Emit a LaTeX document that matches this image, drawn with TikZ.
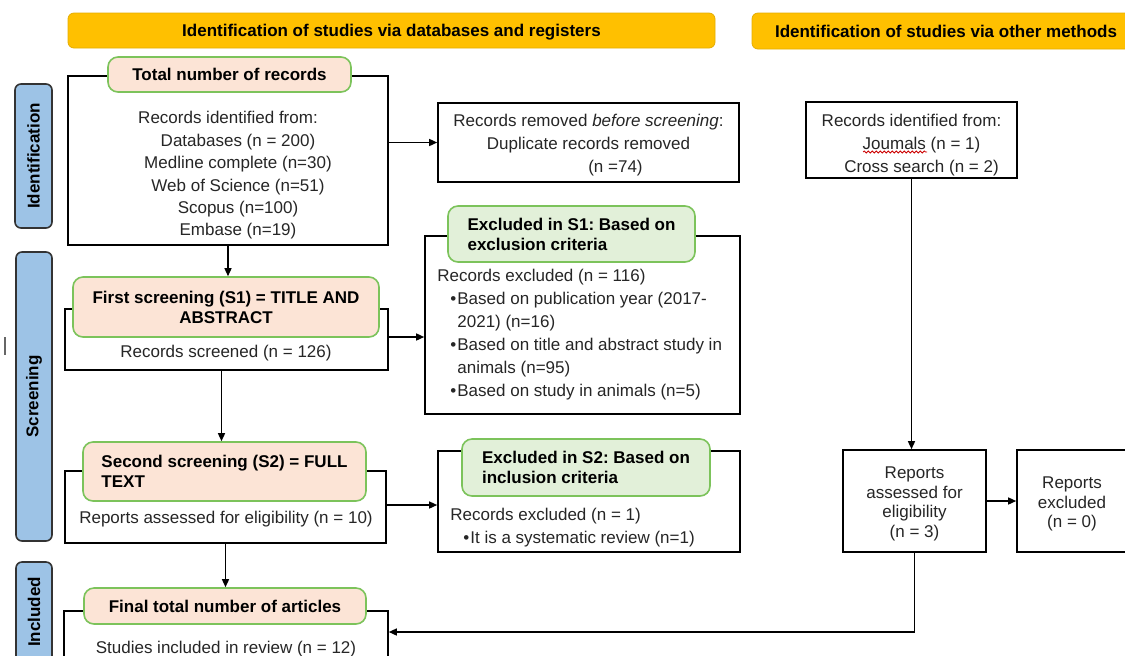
\documentclass[tikz,border=0pt]{standalone}
\usepackage{fontspec}
\setmainfont{Liberation Sans}
\usetikzlibrary{arrows.meta,decorations.pathmorphing}

\definecolor{hdrorange}{HTML}{FFC000}
\definecolor{phaseblue}{HTML}{9DC3E6}
\definecolor{peachfill}{HTML}{FCE4D6}
\definecolor{lblgreen}{HTML}{E2F0D9}
\definecolor{lblborder}{HTML}{7CC35B}

\newcommand{\bulitem}{\hspace*{6.5pt}\makebox[3.5pt][l]{\textbullet}}

\begin{document}
\frenchspacing
\begin{tikzpicture}[x=0.5pt, y=-0.5pt,
	font=\fontsize{8.5}{11.5}\selectfont,
	hdr/.style={draw=hdrorange!90!black, line width=0.4pt, fill=hdrorange, rounded corners=3pt, inner sep=0pt, text depth=0pt, font=\bfseries\fontsize{8.5}{10}\selectfont},
	phase/.style={draw=black!80, line width=0.8pt, fill=phaseblue, rounded corners=3pt, rotate=90, inner sep=0pt, font=\bfseries\fontsize{8.5}{10}\selectfont},
	recbox/.style={draw, line width=0.8pt, fill=white, inner sep=0pt},
	peachlbl/.style={draw=lblborder, line width=0.8pt, fill=peachfill, rounded corners=5pt, inner sep=0pt, align=center, font=\bfseries\fontsize{8.5}{10}\selectfont},
	greenlbl/.style={peachlbl, fill=lblgreen, align=left},
	bodytxt/.style={inner sep=0pt, text=black!85, align=center},
	smalltxt/.style={bodytxt, font=\fontsize{8.5}{9.75}\selectfont},
	arr/.style={line width=0.7pt, -{Triangle[length=4pt,width=3.5pt]}}]
	\useasboundingbox (0,0) rectangle (1125,655);
	% headers
	\node[hdr, minimum width=323.5pt, minimum height=17.5pt] (hdrdb) at (391.5,30.5) {Identification of studies via databases and registers};
	\node[hdr, minimum width=194pt, minimum height=18pt] (hdrother) at (946,31) {Identification of studies via other methods};
	% phases
	\node[phase, minimum width=72pt, minimum height=18.5pt] (phident) at (33.5,156) {Identification};
	\node[phase, minimum width=144.5pt, minimum height=18pt] (phscreen) at (34,396.5) {Screening};
	\node[phase, minimum width=50pt, minimum height=18pt] (phincl) at (34,612) {Included};
	\draw[black!60, line width=0.6pt] (5,337) -- (5,355);
	% left column
	\node[recbox, minimum width=160pt, minimum height=84.5pt] (total) at (228,160.5) {};
	\node[recbox, minimum width=161.5pt, minimum height=30.5pt] (first) at (226.5,339.5) {};
	\node[recbox, minimum width=160.5pt, minimum height=36pt] (second) at (225.5,507) {};
	\node[recbox, minimum width=162pt, minimum height=28.5pt] (final) at (226,639.5) {};
	\node[peachlbl, minimum width=121.5pt, minimum height=17.5pt] (totallbl) at (229.5,74.5) {Total number of records};
	\node[peachlbl, minimum width=153pt, minimum height=30pt] (firstlbl) at (226,307) {First screening (S1) = TITLE AND\\ABSTRACT};
	\node[peachlbl, align=left, minimum width=141.5pt, minimum height=29.5pt] (secondlbl) at (224.5,471.5) {Second screening (S2) = FULL\\TEXT};
	\node[peachlbl, minimum width=141pt, minimum height=18pt] (finallbl) at (225,606) {Final total number of articles};
	\node[bodytxt, font=\fontsize{8.5}{11.2}\selectfont] (totaltxt) at (228,175.5) {Records identified from:\\\hspace*{10pt}Databases (n = 200)\\\hspace*{10pt}Medline complete (n=30)\\\hspace*{10pt}Web of Science (n=51)\\\hspace*{10pt}Scopus (n=100)\\\hspace*{10pt}Embase (n=19)};
	\node[bodytxt] (firsttxt) at (226,353) {Records screened (n = 126)};
	\node[bodytxt] (secondtxt) at (226,519) {Reports assessed for eligibility (n = 10)};
	\node[bodytxt] (finaltxt) at (226,649) {Studies included in review (n = 12)};
	% middle column
	\node[recbox, minimum width=150.5pt, minimum height=39.5pt] (removed) at (588.5,142.5) {};
	\node[bodytxt] (removedtxt) at (588.5,145.5) {Records removed \textit{before screening}:\\Duplicate records removed\hspace*{6pt}\\\hspace*{27pt}(n =74)};
	\node[recbox, minimum width=157.5pt, minimum height=89pt] (excl1) at (582.5,325) {};
	\node[recbox, minimum width=151pt, minimum height=50.5pt] (excl2) at (589,501.5) {};
	\node[greenlbl, minimum width=123.5pt, minimum height=28pt] (excl1lbl) at (571.5,234) {Excluded in S1: Based on\\exclusion criteria};
	\node[greenlbl, minimum width=124pt, minimum height=28.5pt] (excl2lbl) at (586,467.5) {Excluded in S2: Based on\\inclusion criteria};
	\node[bodytxt, anchor=west, align=left] (excl1txt) at (437,334.5) {Records excluded (n = 116)\\
		\bulitem Based on publication year (2017-\\
		\hspace*{10pt}2021) (n=16)\\
		\bulitem Based on title and abstract study in\\
		\hspace*{10pt}animals (n=95)\\
		\bulitem Based on study in animals (n=5)};
	\node[bodytxt, anchor=west, align=left] (excl2txt) at (450,527.5) {Records excluded (n = 1)\\
		\bulitem It is a systematic review (n=1)};
	% right column
	\node[recbox, minimum width=105.5pt, minimum height=38pt] (other) at (911.5,140) {};
	\node[bodytxt] (othertxt) at (911.5,145) {Records identified from:\\\hspace*{10pt}Joumals (n = 1)\\\hspace*{10pt}Cross search (n = 2)};
	\draw[red!80!black, line width=0.4pt, decorate, decoration={snake, amplitude=0.5pt, segment length=2pt}] (863,152) -- (927,152);
	\node[recbox, minimum width=71.5pt, minimum height=51pt] (assess) at (914.5,501) {};
	\node[smalltxt] (assesstxt) at (914.5,504) {Reports\\assessed for\\eligibility\\(n = 3)};
	\node[recbox, minimum width=55pt, minimum height=51pt] (rexcl) at (1072,501) {};
	\node[smalltxt] (rexcltxt) at (1072,504) {Reports\\excluded\\(n = 0)};
	% connectors
	\draw[arr] (total.east |- removed.west) -- (removed.west);
	\draw[arr] (total.south) -- (total.south |- firstlbl.north);
	\draw[arr] ([yshift=1.25pt]first.east) -- ([yshift=1.25pt]first.east -| excl1.west);
	\draw[arr] ([xshift=-2.5pt]first.south) -- ([xshift=-2.5pt]first.south |- secondlbl.north);
	\draw[arr] ([yshift=1pt]second.east) -- ([yshift=1pt]second.east -| excl2.west);
	\draw[arr] (second.south) -- (second.south |- finallbl.north);
	\draw[arr] (other.south) -- (other.south |- assess.north);
	\draw[arr] (assess.east) -- (rexcl.west);
	\draw[arr] (assess.south) |- ([yshift=3.75pt]final.east);
\end{tikzpicture}
\end{document}
